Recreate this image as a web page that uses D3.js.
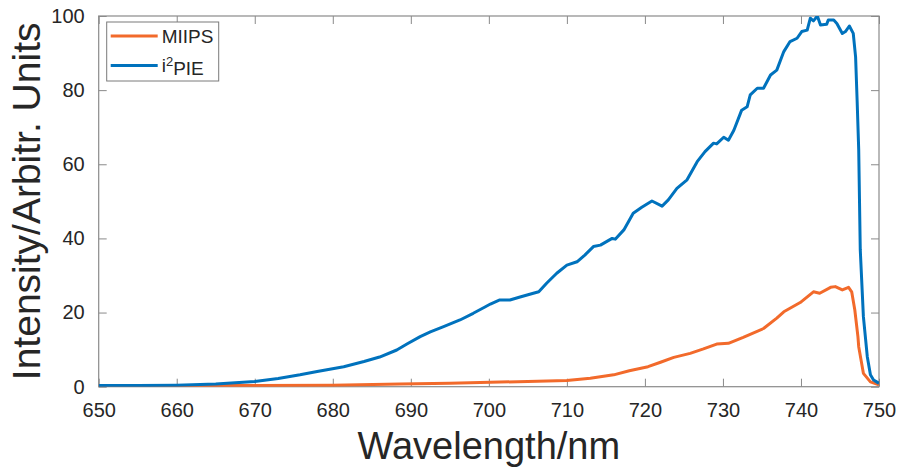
<!DOCTYPE html>
<html>
<head>
<meta charset="utf-8">
<script src="https://cdn.jsdelivr.net/npm/d3@7"></script>
<style>
  body { margin: 0; background: #fff; }
  svg text { font-family: Arial, "Liberation Sans", Helvetica, sans-serif; fill: #262626; }
</style>
</head>
<body>
<div id="chart"></div>
<script>
// wavelength (nm) / intensity pairs
const miipsWl = [650, 660, 670, 680, 688.6, 695, 700.2, 705, 710, 713, 716, 718, 720.4, 722, 723.7, 725.8, 727.5, 729.2, 730.7, 732.6, 735.2, 736.9, 737.8, 739.9, 741.6, 742.4, 743.8, 744.4, 745.3, 746.1, 746.5, 746.9, 747.3, 747.4, 748, 748.9, 750];
const miipsVal = [0.3, 0.3, 0.3, 0.4, 0.7, 0.9, 1.2, 1.4, 1.7, 2.3, 3.2, 4.3, 5.4, 6.6, 7.9, 9.0, 10.2, 11.5, 11.7, 13.3, 15.7, 18.5, 20.2, 22.7, 25.6, 25.2, 26.8, 27, 26.1, 26.8, 25.6, 20.7, 13.5, 10.8, 3.6, 1.3, 0.5];

const pieWl = [650, 655, 660, 665, 670, 673, 675.8, 678, 681.4, 684, 686, 688.2, 689.5, 691.2, 692.5, 694.2, 696.3, 698, 699.5, 700.2, 701.4, 702.7, 704, 705.7, 706.4, 707.4, 708.7, 710, 711.3, 712.3, 713.4, 714.3, 715.8, 716.2, 717.3, 718.5, 719.6, 720.9, 722.2, 723, 724.1, 725.4, 726.7, 727.7, 728.8, 729.2, 730.1, 730.7, 731.4, 732.4, 733.1, 733.5, 734.4, 735.2, 736.1, 736.9, 737.8, 738.6, 739.5, 740.1, 740.8, 741.2, 741.6, 742.1, 742.5, 743.3, 743.5, 744.2, 744.6, 745.3, 745.7, 746.2, 746.7, 747.0, 747.2, 747.4, 747.6, 748, 748.5, 748.9, 749.3, 749.7, 750];
const pieVal = [0.3, 0.3, 0.4, 0.7, 1.4, 2.2, 3.2, 4.1, 5.4, 6.8, 8.0, 9.9, 11.5, 13.5, 14.8, 16.2, 18, 19.8, 21.5, 22.3, 23.4, 23.4, 24.2, 25.2, 25.6, 27.9, 30.6, 32.8, 33.7, 35.5, 37.8, 38.2, 40, 39.8, 42.3, 46.8, 48.4, 50.1, 48.7, 50.4, 53.5, 55.8, 60.7, 63.4, 65.7, 65.5, 67.3, 66.5, 69.2, 74.6, 75.5, 78.7, 80.5, 80.5, 84.1, 85.4, 90.4, 93.1, 94, 95.8, 96.2, 99.4, 98.7, 100, 97.6, 97.8, 98.9, 98.9, 98, 95.3, 95.8, 97.3, 95.3, 89, 77, 63.9, 36.9, 18.9, 8.1, 3.2, 1.8, 1.3, 0.9];

const xTicks = [650, 660, 670, 680, 690, 700, 710, 720, 730, 740, 750];
const yTicks = [0, 20, 40, 60, 80, 100];
const seriesNames = ['MIIPS', 'i2PIE'];
const seriesColors = ['#f26a2b', '#0072bd'];

const width = 901, height = 471;
const margin = {top: 16, right: 22, bottom: 84.3, left: 98.7};
const innerW = width - margin.left - margin.right;
const innerH = height - margin.top - margin.bottom;

const svg = d3.select('#chart')
  .append('svg')
  .attr('width', width)
  .attr('height', height);

const x = d3.scaleLinear().domain([650, 750]).range([0, innerW]);
const y = d3.scaleLinear().domain([0, 100]).range([innerH, 0]);

const g = svg.append('g')
  .attr('transform', `translate(${margin.left},${margin.top})`);

g.append('clipPath').attr('id', 'clip')
  .append('rect').attr('width', innerW).attr('height', innerH);

const axisColor = '#8a8a8a';
const tickLen = 8;

// axes (ticks inside, mirrored on top/right)
function styleAxis(sel) {
  sel.select('.domain').remove();
  sel.selectAll('.tick line').attr('stroke', axisColor);
  sel.selectAll('.tick text').style('font-size', '20px').attr('fill', '#262626');
}

g.append('g')
  .attr('transform', `translate(0,${innerH})`)
  .call(d3.axisBottom(x).tickValues(xTicks).tickSize(-tickLen).tickPadding(16))
  .call(styleAxis);

g.append('g')
  .call(d3.axisTop(x).tickValues(xTicks).tickSize(-tickLen).tickFormat(''))
  .call(styleAxis);

g.append('g')
  .call(d3.axisLeft(y).tickValues(yTicks).tickSize(-tickLen).tickPadding(14))
  .call(styleAxis);

g.append('g')
  .attr('transform', `translate(${innerW},0)`)
  .call(d3.axisRight(y).tickValues(yTicks).tickSize(-tickLen).tickFormat(''))
  .call(styleAxis);

g.append('rect')
  .attr('width', innerW)
  .attr('height', innerH)
  .attr('fill', 'none')
  .attr('stroke', axisColor)
  .attr('stroke-width', 1.2);

// lines
const line = d3.line()
  .x(d => x(d[0]))
  .y(d => y(d[1]));

const series = [
  d3.zip(miipsWl, miipsVal),
  d3.zip(pieWl, pieVal)
];

g.append('g')
  .attr('clip-path', 'url(#clip)')
  .selectAll('path')
  .data(series)
  .enter().append('path')
    .attr('d', line)
    .attr('fill', 'none')
    .attr('stroke', (d, i) => seriesColors[i])
    .attr('stroke-width', 3)
    .attr('stroke-linejoin', 'round');

// legend
const legend = g.append('g').attr('transform', 'translate(8,6)');
legend.append('rect')
  .attr('width', 112)
  .attr('height', 59)
  .attr('fill', '#fff')
  .attr('stroke', '#7a7a7a')
  .attr('stroke-width', 1);

seriesNames.forEach((name, i) => {
  const ly = 14 + i * 29.5;
  legend.append('line')
    .attr('x1', 4).attr('x2', 51)
    .attr('y1', ly).attr('y2', ly)
    .attr('stroke', seriesColors[i])
    .attr('stroke-width', 3);
  const t = legend.append('text')
    .attr('x', 55)
    .attr('y', ly)
    .attr('dy', '0.36em')
    .style('font-size', '19px');
  if (name === 'i2PIE') {
    t.append('tspan').text('i');
    t.append('tspan').attr('dy', '-0.45em').style('font-size', '13px').text('2');
    t.append('tspan').attr('dy', '0.45em').text('PIE');
  } else {
    t.text(name);
  }
});

// axis titles
svg.append('text')
  .attr('x', margin.left + innerW / 2)
  .attr('y', 459)
  .attr('text-anchor', 'middle')
  .style('font-size', '38px')
  .text('Wavelength/nm');

svg.append('text')
  .attr('transform', `translate(40,${margin.top + innerH / 2}) rotate(-90)`)
  .attr('text-anchor', 'middle')
  .style('font-size', '39px')
  .text('Intensity/Arbitr. Units');
</script>
</body>
</html>
